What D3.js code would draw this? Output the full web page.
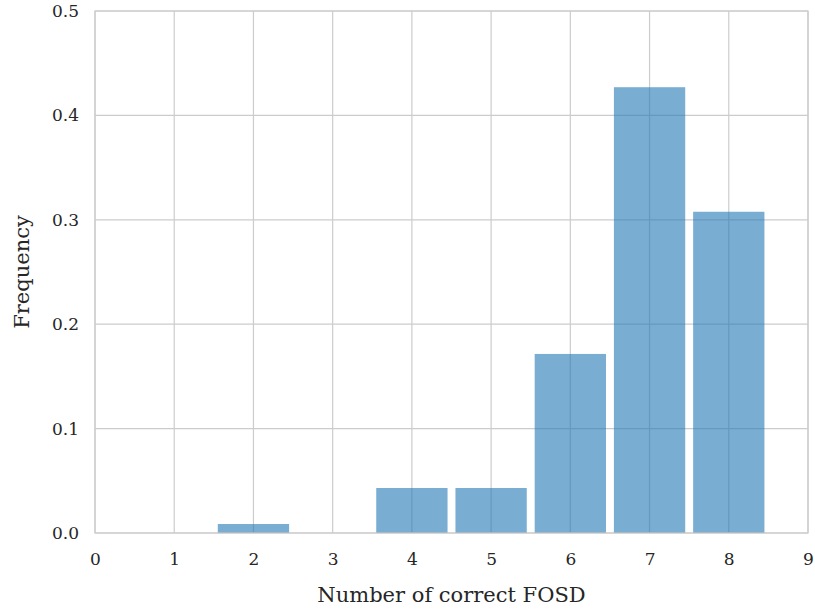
<!DOCTYPE html>
<html>
<head>
<meta charset="utf-8">
<script src="https://cdn.jsdelivr.net/npm/d3@7"></script>
<style>
  body { margin: 0; background: #fff; }
  svg text { font-family: "DejaVu Serif", "Liberation Serif", serif; fill: #262626; }
</style>
</head>
<body>
<div class="chart"></div>
<script>
// relative frequencies
const categories = [2, 4, 5, 6, 7, 8];
const frequency = [0.0086, 0.0431, 0.0431, 0.1715, 0.427, 0.3077];
const xTicks = [0, 1, 2, 3, 4, 5, 6, 7, 8, 9];
const yTicks = [0.0, 0.1, 0.2, 0.3, 0.4, 0.5];

const data = categories.map((c, i) => ({k: c, f: frequency[i]}));

const svg_width = 815, svg_height = 611;
const margin = {top: 11, right: 7, bottom: 78, left: 95};
const w = svg_width - margin.left - margin.right;
const h = svg_height - margin.top - margin.bottom;

const svg = d3.select('.chart').append('svg')
  .attr('width', svg_width).attr('height', svg_height);
const g = svg.append('g').attr('transform', `translate(${margin.left},${margin.top})`);

const x = d3.scaleLinear().domain([0, 9]).range([0, w]);
const y = d3.scaleLinear().domain([0, 0.5]).range([h, 0]);

// grid
g.append('g').selectAll('line').data(xTicks).join('line')
  .attr('x1', d => x(d)).attr('x2', d => x(d)).attr('y1', 0).attr('y2', h)
  .attr('stroke', '#cccccc').attr('stroke-width', 1.2);
g.append('g').selectAll('line').data(yTicks).join('line')
  .attr('x1', 0).attr('x2', w).attr('y1', d => y(d)).attr('y2', d => y(d))
  .attr('stroke', '#cccccc').attr('stroke-width', 1.2);

// bars
g.selectAll('.bar').data(data).join('rect')
  .attr('class', 'bar')
  .attr('x', d => x(d.k - 0.45))
  .attr('width', x(0.9) - x(0))
  .attr('y', d => y(d.f))
  .attr('height', d => y(0) - y(d.f))
  .attr('fill', '#1f77b4').attr('fill-opacity', 0.6);

// frame
g.append('rect').attr('width', w).attr('height', h)
  .attr('fill', 'none').attr('stroke', '#cccccc').attr('stroke-width', 1.2);

// axes
const xAxis = d3.axisBottom(x).tickValues(xTicks).tickFormat(d3.format('d')).tickSize(0).tickPadding(20);
const xg = g.append('g').attr('transform', `translate(0,${h})`).call(xAxis);
const yAxis = d3.axisLeft(y).tickValues(yTicks).tickFormat(d3.format('.1f')).tickSize(0).tickPadding(16);
const yg = g.append('g').call(yAxis);
[xg, yg].forEach(a => {
  a.select('.domain').remove();
  a.selectAll('text').style('font-size', '17px').attr('fill', '#262626');
});

svg.append('text')
  .attr('x', margin.left + w / 2).attr('y', 602)
  .attr('text-anchor', 'middle').style('font-size', '21px')
  .text('Number of correct FOSD');
svg.append('text')
  .attr('transform', `translate(29,${margin.top + h / 2}) rotate(-90)`)
  .attr('text-anchor', 'middle').style('font-size', '21px')
  .text('Frequency');
</script>
</body>
</html>
